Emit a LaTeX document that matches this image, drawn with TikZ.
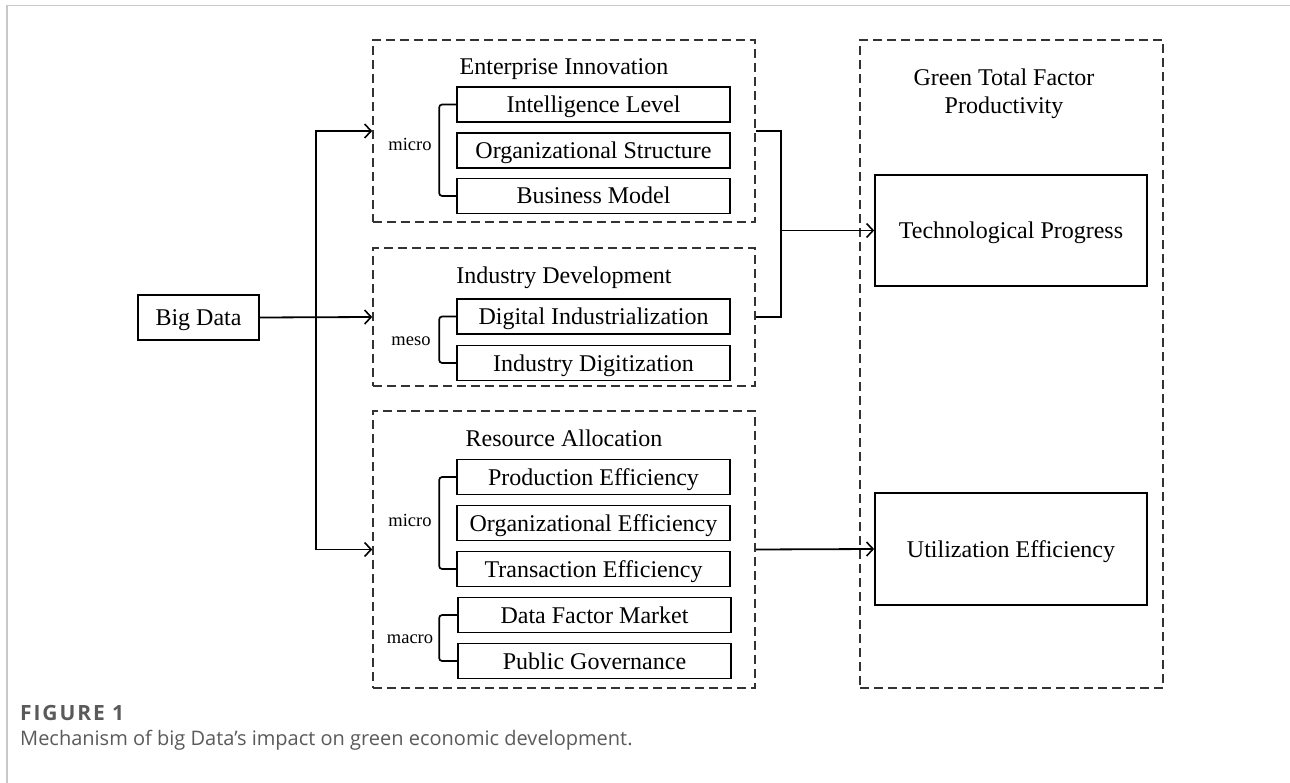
\documentclass[tikz,border=0pt]{standalone}
\usepackage{fontspec}
\setmainfont{Liberation Serif}
\newfontfamily\capfont{Open Sans}
\usetikzlibrary{arrows.meta}
\newcommand\bigf{\fontsize{24}{28}\selectfont}
\newcommand\smallf{\fontsize{18.5}{21}\selectfont}
\definecolor{capgray}{HTML}{5A5A5A}
\definecolor{framegray}{HTML}{C8C8C8}
\tikzset{
  txt/.style={font=\bigf, text height=16.5pt, text depth=0.5pt, inner sep=0pt},
  inbox/.style={txt, draw, line width=1.7pt, minimum width=273, minimum height=35},
  sbox/.style={txt, draw, line width=1.7pt},
  dbox/.style={draw=black!80, dash pattern=on 9pt off 5pt, line width=1.6pt, inner sep=0pt},
  ttl/.style={txt},
  lvl/.style={font=\smallf, text height=12.5pt, text depth=0.5pt, inner sep=0pt},
  arr/.style={line width=1.8pt, -{Straight Barb[length=6.5pt,width=14pt,line width=1.6pt]}},
  brk/.style={line width=1.7pt, rounded corners=3pt},
  ln/.style={line width=1.8pt},
}
\begin{document}
\begin{tikzpicture}[x=1pt,y=-1pt]
\useasboundingbox (0,0) rectangle (1290,783);
\draw[framegray, line width=1.5pt] (7,783) -- (7,5.5) -- (1290,5.5);

% dashed groups
\node[dbox, minimum width=382, minimum height=182] (ent) at (564,131) {};
\node[dbox, minimum width=382, minimum height=138] (ind) at (564,317) {};
\node[dbox, minimum width=382, minimum height=277] (res) at (564,549.5) {};
\node[dbox, minimum width=303, minimum height=648] (gt) at (1011.5,364) {};

\node[ttl] (tent) at (564,67) {Enterprise Innovation};
\node[ttl] (tind) at (564,276) {Industry Development};
\node[ttl] (tres) at (564,438) {Resource Allocation};
\node[font=\bigf, inner sep=0pt, align=center] (tgt) at (1004,94) {Green Total Factor\\Productivity};

% Big Data
\node[sbox, minimum width=121, minimum height=45] (bd) at (198.5,317.5) {Big Data};

% inner boxes
\node[inbox] (il) at (593.5,104.5) {Intelligence Level};
\node[inbox] (os) at (593.5,150.5) {Organizational Structure};
\node[inbox] (bm) at (593.5,196) {Business Model};
\node[inbox] (di) at (593.5,316.5) {Digital Industrialization};
\node[inbox] (idg) at (593.5,363) {Industry Digitization};
\node[inbox] (pe) at (593.5,477) {Production Efficiency};
\node[inbox] (oe) at (593.5,523) {Organizational Efficiency};
\node[inbox] (te) at (593.5,569) {Transaction Efficiency};
\node[inbox] (dfm) at (594.5,615) {Data Factor Market};
\node[inbox] (pg) at (594.5,661) {Public Governance};

% level labels
\node[lvl] (l1) at (410,145) {micro};
\node[lvl] (l2) at (411,340) {meso};
\node[lvl] (l3) at (410,520) {micro};
\node[lvl] (l4) at (410,637) {macro};

% brackets
\draw[brk] (il.west) -- ++(-17,0) |- (bm.west);
\draw[brk] (di.west) -- ++(-17,0) |- (idg.west);
\draw[brk] (pe.west) -- ++(-17,0) |- (te.west);
\draw[brk] (dfm.west) -- ++(-18,0) |- (pg.west);

% right side boxes
\node[sbox, minimum width=272, minimum height=111] (tp) at (1011,230.5) {Technological Progress};
\node[sbox, minimum width=272, minimum height=112] (ue) at (1011,549) {Utilization Efficiency};

% connectors from Big Data
\coordinate (j) at (316,0);
\draw[arr] (bd.east) -- (ind.west);
\draw[arr] (j |- bd.east) |- (ent.west);
\draw[arr] (j |- bd.east) |- (res.west);

% right bracket
\coordinate (k) at (781,0);
\draw[ln] (ent.east) -| (k |- ind.east) -- (ind.east);
\draw[arr] (k |- tp.west) -- (tp.west);
\draw[arr] (res.east) -- (ue.west);

% caption
\node[anchor=base west, inner sep=0pt, text=capgray, font=\capfont\fontsize{21}{24}\selectfont\bfseries\addfontfeatures{LetterSpace=9}] (cap1) at (20,720) {FIGURE 1};
\node[anchor=base west, inner sep=0pt, text=capgray, font=\capfont\fontsize{20}{24}\selectfont] (cap2) at (20,745) {Mechanism of big Data’s impact on green economic development.};
\end{tikzpicture}
\end{document}
